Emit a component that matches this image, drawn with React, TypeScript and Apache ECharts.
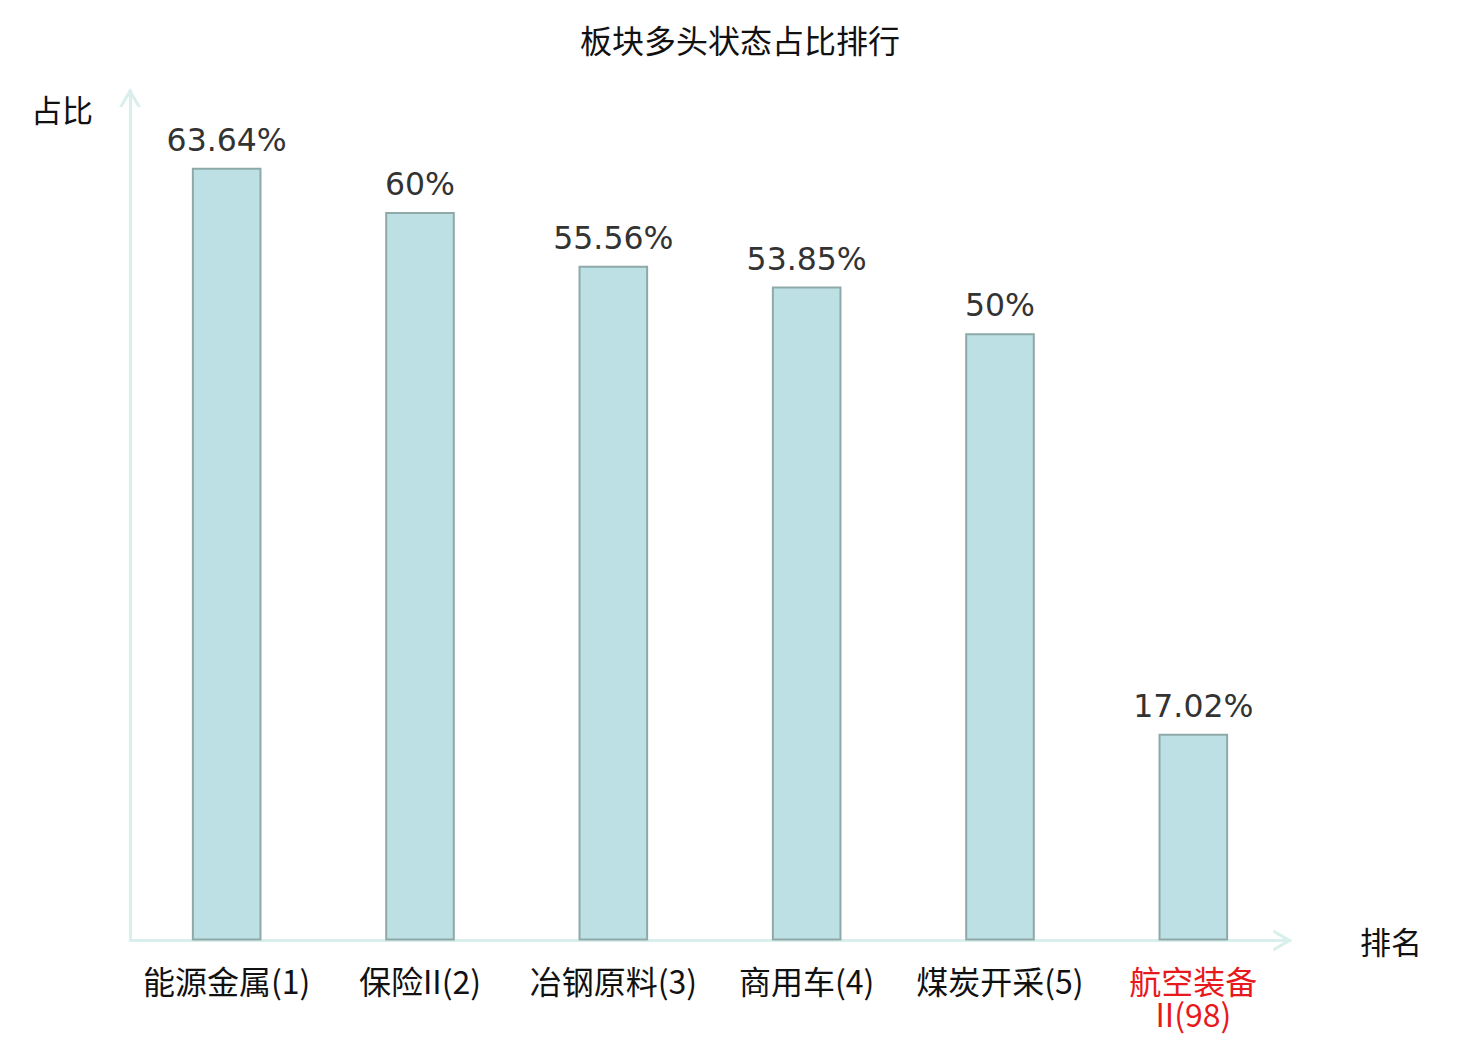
import React, { useEffect, useRef } from "react";
import * as echarts from "echarts";

const titleText = "板块多头状态占比排行";
const categories = ["能源金属(1)", "保险II(2)", "冶钢原料(3)", "商用车(4)", "煤炭开采(5)", "航空装备II(98)"];
const values = [63.64, 60, 55.56, 53.85, 50, 17.02];
const highlightIndex = [5];
const yAxisName = "占比";
const xAxisName = "排名";

const chevron = "path://M0,19 L11,0 L22,19 L18.6,19 L11,6.2 L3.4,19 Z";

export default function App() {
  const ref = useRef<HTMLDivElement>(null);
  useEffect(() => {
    if (!ref.current) return;
    const chart = echarts.init(ref.current, null, { renderer: "svg" });
    const axisColor = "#d9efec";
    const axisLine = {
      show: true,
      lineStyle: { color: axisColor, width: 3 },
      symbol: ["none", chevron],
      symbolSize: [22, 19],
      symbolOffset: [0, -7],
    };
    chart.setOption({
      animation: false,
      backgroundColor: "#ffffff",
      title: {
        text: titleText,
        left: "center",
        top: 18,
        textStyle: { fontSize: 32, fontWeight: "normal", color: "#111", fontFamily: "Noto Sans CJK SC" },
      },
      grid: { left: 130, right: 190, top: 90.5, bottom: 99.5, containLabel: false, outerBoundsMode: "none" },
      xAxis: {
        type: "category",
        data: categories,
        name: xAxisName,
        nameLocation: "end",
        nameGap: 70,
        nameMoveOverlap: false,
        nameTextStyle: { fontSize: 31, color: "#111", fontFamily: "Noto Sans CJK SC", padding: [0, 0, 2, 0] },
        axisTick: { show: false },
        axisLine,
        axisLabel: {
          interval: 0,
          margin: 23,
          fontSize: 32,
          lineHeight: 33,
          fontFamily: "Noto Sans CJK SC",
          color: (_v: any, i: number) => (highlightIndex.indexOf(i) >= 0 ? "#e8191c" : "#111"),
          formatter: (v: string) => (v.length > 8 ? v.slice(0, 4) + "\n" + v.slice(4) : v),
        },
        splitLine: { show: false },
      },
      yAxis: {
        type: "value",
        min: 0,
        max: 70,
        name: yAxisName,
        nameLocation: "end",
        nameGap: -17.5,
        nameMoveOverlap: false,
        nameTextStyle: {
          fontSize: 31,
          color: "#111",
          fontFamily: "Noto Sans CJK SC",
          align: "right",
          verticalAlign: "middle",
          padding: [0, 37, 0, 0],
        },
        axisLine,
        axisTick: { show: false },
        axisLabel: { show: false },
        splitLine: { show: false },
      },
      series: [
        {
          type: "bar",
          data: values,
          barWidth: "36%",
          itemStyle: { color: "#bce0e3", borderColor: "#8fa9a9", borderWidth: 2 },
          label: {
            show: true,
            position: "top",
            distance: 12,
            fontSize: 31.5,
            color: "#333",
            fontFamily: "DejaVu Sans",
            formatter: (p: any) => p.value + "%",
          },
        },
      ],
    });
    return () => chart.dispose();
  }, []);
  return <div ref={ref} style={{ position: "fixed", left: 0, top: 0, width: 1480, height: 1040 }} />;
}
